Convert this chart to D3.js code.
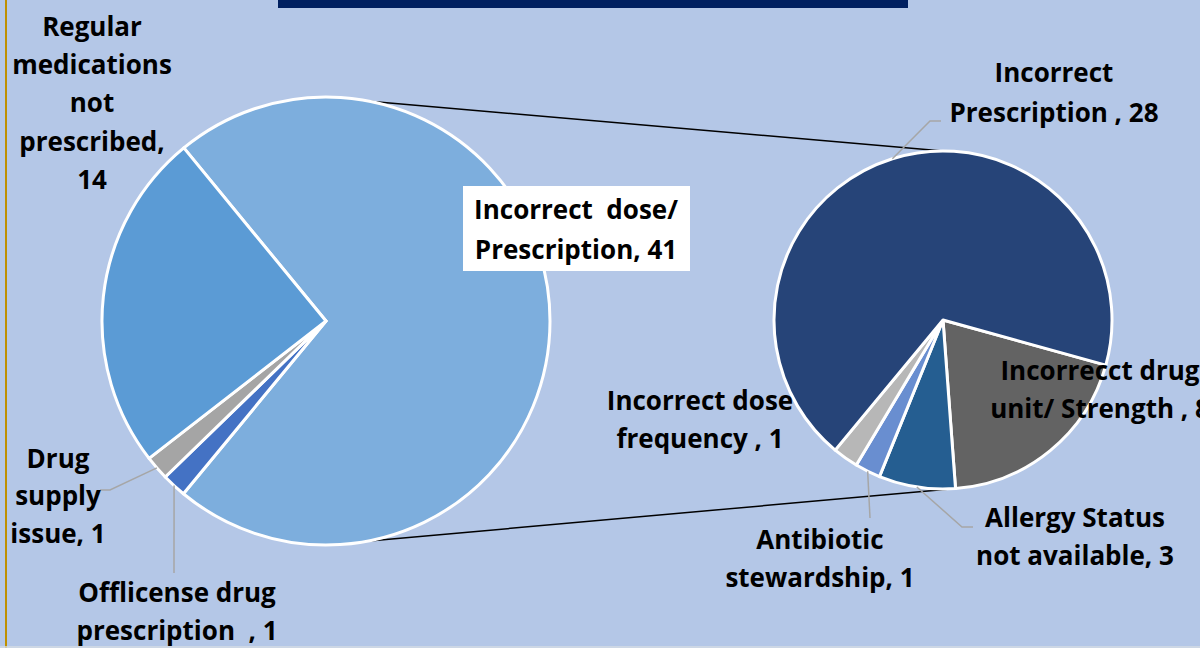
<!DOCTYPE html>
<html>
<head>
<meta charset="utf-8">
<script src="https://cdn.jsdelivr.net/npm/d3@7"></script>
<style>
  body { margin: 0; background: #B4C7E7; }
  svg text { font-family: "Open Sans", sans-serif; font-weight: 700; font-size: 26px; fill: #000; white-space: pre; }
</style>
</head>
<body>
<div id="chart"></div>
<script>
// main pie
const mainCategories = ["Incorrect dose/ Prescription", "Offlicense drug prescription", "Drug supply issue", "Regular medications not prescribed"];
const mainValues = [41, 1, 1, 14];
const mainLabelLines = [
  ["Incorrect  dose/", "Prescription, {v}"],
  ["Offlicense drug", "prescription  , {v}"],
  ["Drug", "supply", "issue, {v}"],
  ["Regular", "medications", "not", "prescribed,", "{v}"]
];

// breakdown pie (split of "Incorrect dose/ Prescription")
const subCategories = ["Incorrecct drug unit/ Strength", "Allergy Status not available", "Antibiotic stewardship", "Incorrect dose frequency", "Incorrect Prescription"];
const subValues = [8, 3, 1, 1, 28];
const subLabelLines = [
  ["Incorrecct drug", "unit/ Strength , {v}"],
  ["Allergy Status", "not available, {v}"],
  ["Antibiotic", "stewardship, {v}"],
  ["Incorrect dose", "frequency , {v}"],
  ["Incorrect", "Prescription , {v}"]
];

const width = 1200, height = 648;
const deg = Math.PI / 180;

const mainPie = { cx: 326, cy: 321, r: 224, start: 320.6,
  colors: ["#7DAEDD", "#4472C4", "#A5A5A5", "#5B9BD5"],
  labels: [
    { x: 576, y: [219, 259], box: [463, 186, 227, 85] },
    { x: 177, y: [602, 640], leader: [[174, 573]] },
    { x: 58, y: [468, 505, 543], leader: [[110, 490], [100, 490]] },
    { x: 92, y: [36, 74, 112, 151, 189] }
  ] };

const subPie = { cx: 943, cy: 320, r: 169, start: 105.5,
  colors: ["#636363", "#255E91", "#698ED0", "#B7B7B7", "#264478"],
  labels: [
    { x: 1100, y: [380, 418] },
    { x: 1075, y: [527, 565], leader: [[962, 527], [973, 527]] },
    { x: 820, y: [549, 587], leader: [[870, 518]] },
    { x: 700, y: [410, 448] },
    { x: 1054, y: [82, 122], leader: [[930, 121], [941, 121]] }
  ] };

const svg = d3.select("#chart")
  .append("svg")
  .attr("width", width)
  .attr("height", height);

svg.append("rect").attr("width", width).attr("height", height).attr("fill", "#B4C7E7");
svg.append("rect").attr("x", 278).attr("y", 0).attr("width", 630).attr("height", 8).attr("fill", "#002060");
svg.append("rect").attr("x", 5).attr("y", 0).attr("width", 2).attr("height", height).attr("fill", "#BF9000");
svg.append("line").attr("x1", 0).attr("x2", width).attr("y1", 647).attr("y2", 647).attr("stroke", "#D6DCE5").attr("stroke-width", 1.5);

const pt = (p, a, r) => [p.cx + r * Math.sin(a * deg), p.cy - r * Math.cos(a * deg)];

// connector lines between the two pies
[[11.2, 0], [169.6, 176.6]].forEach(([a1, a2]) => {
  const p1 = pt(mainPie, a1, mainPie.r), p2 = pt(subPie, a2, subPie.r);
  svg.append("line")
    .attr("x1", p1[0]).attr("y1", p1[1])
    .attr("x2", p2[0]).attr("y2", p2[1])
    .attr("stroke", "#000").attr("stroke-width", 1.5);
});

function drawPie(cfg, values, lines) {
  const arcs = d3.pie().sort(null)
    .startAngle(cfg.start * deg)
    .endAngle(cfg.start * deg + 2 * Math.PI)(values);

  const arc = d3.arc().innerRadius(0).outerRadius(cfg.r);

  const g = svg.append("g").attr("transform", `translate(${cfg.cx},${cfg.cy})`);
  g.selectAll("path")
    .data(arcs)
    .join("path")
    .attr("d", arc)
    .attr("fill", (d, i) => cfg.colors[i])
    .attr("stroke", "#fff")
    .attr("stroke-width", 3)
    .attr("stroke-linejoin", "round");

  arcs.forEach((d, i) => {
    const lab = cfg.labels[i];
    if (lab.leader) {
      const mid = (d.startAngle + d.endAngle) / 2 / deg;
      const pts = [pt(cfg, mid, cfg.r)].concat(lab.leader);
      svg.append("path")
        .attr("d", d3.line()(pts))
        .attr("fill", "none")
        .attr("stroke", "#A6A6A6")
        .attr("stroke-width", 1.5);
    }
    if (lab.box) {
      svg.append("rect")
        .attr("x", lab.box[0]).attr("y", lab.box[1])
        .attr("width", lab.box[2]).attr("height", lab.box[3])
        .attr("fill", "#fff");
    }
    const t = svg.append("text").attr("text-anchor", "middle");
    lines[i].forEach((s, k) => {
      t.append("tspan")
        .attr("x", lab.x)
        .attr("y", lab.y[k])
        .text(s.replace("{v}", d.data));
    });
  });
}

drawPie(mainPie, mainValues, mainLabelLines);
drawPie(subPie, subValues, subLabelLines);
</script>
</body>
</html>
